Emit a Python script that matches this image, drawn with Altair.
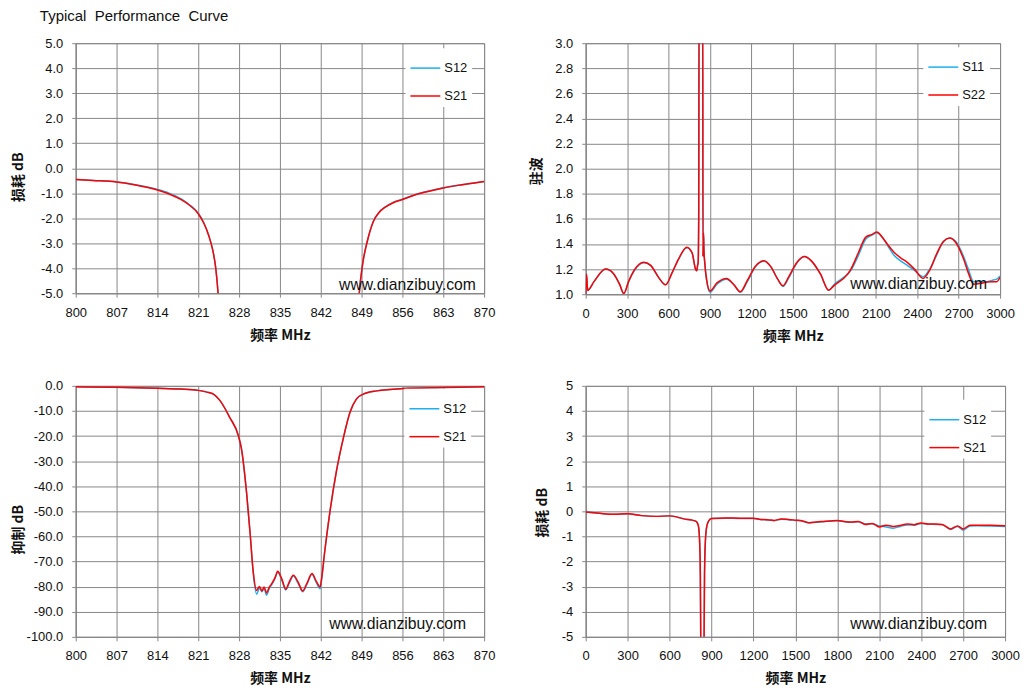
import altair as alt
import pandas as pd

TITLE = "Typical\u00a0 Performance\u00a0 Curve"
WATERMARK = "www.dianzibuy.com"
X_TITLE = "频率 MHz"
Y_TITLE_LOSS = "损耗 dB"
Y_TITLE_VSWR = "驻波"
Y_TITLE_REJ = "抑制 dB"

BLUE = "#1cb0ec"
RED = "#ff0000"
GRID = "#878787"
TEXT = "#111111"
FONT = "Liberation Sans"
CJK = "Noto Sans CJK SC"

NARROW_X_TICKS = [800, 807, 814, 821, 828, 835, 842, 849, 856, 863, 870]
WIDE_X_TICKS = [0, 300, 600, 900, 1200, 1500, 1800, 2100, 2400, 2700, 3000]
P1_Y_TICKS = [-5, -4, -3, -2, -1, 0, 1, 2, 3, 4, 5]
P2_Y_TICKS = [1.0, 1.2, 1.4, 1.6, 1.8, 2.0, 2.2, 2.4, 2.6, 2.8, 3.0]
P3_Y_TICKS = [-100, -90, -80, -70, -60, -50, -40, -30, -20, -10, 0]
P4_Y_TICKS = [-5, -4, -3, -2, -1, 0, 1, 2, 3, 4, 5]

# ---- Panel 1: passband edges, S12 / S21 (dB)
P1_FREQ = [800, 803, 807, 810, 814, 816, 818, 819.5, 821, 822, 822.8, 823.5, 824, 824.4, 824.8,
           848.2, 848.6, 849.2, 850, 851, 852, 853, 854.5, 856, 858, 860, 863, 866, 868, 870]
P1_S21 = [-0.45, -0.49, -0.55, -0.66, -0.87, -1.03, -1.25, -1.48, -1.82, -2.22, -2.7, -3.3, -4.0, -5.0, -6.5,
          -6.5, -5.0, -3.8, -2.9, -2.14, -1.77, -1.57, -1.37, -1.25, -1.08, -0.95, -0.79, -0.67, -0.6, -0.53]
P1_S12 = [-0.45, -0.49, -0.55, -0.65, -0.85, -1.0, -1.22, -1.46, -1.8, -2.2, -2.68, -3.28, -3.98, -5.0, -6.5,
          -6.5, -5.0, -3.8, -2.9, -2.13, -1.76, -1.56, -1.36, -1.24, -1.07, -0.94, -0.78, -0.66, -0.6, -0.53]

# ---- Panel 2: VSWR, S11 / S22
P2_FREQ = [0, 6, 14, 60, 144, 200, 245, 276, 310, 350, 420, 470, 530, 578, 625, 672, 732, 770, 795, 804,
           810, 814, 818, 821, 847, 849, 851, 853, 856, 862, 875, 900, 950, 1020, 1070, 1120, 1170, 1230,
           1291, 1340, 1390, 1428, 1470, 1530, 1584, 1630, 1700, 1759, 1800, 1896, 1920, 1970, 2028, 2070,
           2107, 2150, 2190, 2232, 2280, 2328, 2380, 2443, 2490, 2540, 2590, 2635, 2680, 2736, 2770, 2808,
           2850, 2900, 2940, 2976, 3000]
P2_S22 = [1.0, 1.16, 1.03, 1.1, 1.2, 1.165, 1.08, 1.005, 1.1, 1.19, 1.255, 1.23, 1.13, 1.075, 1.17, 1.28,
          1.375, 1.33, 1.2, 1.187, 1.23, 1.25, 1.6, 3.4, 3.4, 1.3, 1.42, 1.49, 1.35, 1.25, 1.12, 1.026,
          1.09, 1.126, 1.08, 1.02, 1.11, 1.225, 1.267, 1.22, 1.12, 1.067, 1.14, 1.255, 1.3, 1.27, 1.16,
          1.032, 1.07, 1.16, 1.2, 1.32, 1.455, 1.475, 1.495, 1.45, 1.39, 1.335, 1.29, 1.254, 1.2, 1.126,
          1.19, 1.32, 1.42, 1.447, 1.41, 1.28, 1.17, 1.08, 1.085, 1.095, 1.1, 1.1, 1.135]
P2_S11 = [1.0, 1.16, 1.03, 1.1, 1.2, 1.165, 1.08, 1.005, 1.1, 1.185, 1.25, 1.23, 1.13, 1.075, 1.17, 1.28,
          1.37, 1.33, 1.2, 1.187, 1.23, 1.25, 1.6, 3.4, 3.4, 1.3, 1.42, 1.48, 1.35, 1.25, 1.11, 1.015,
          1.08, 1.12, 1.08, 1.015, 1.1, 1.22, 1.262, 1.22, 1.12, 1.062, 1.13, 1.25, 1.3, 1.27, 1.16,
          1.032, 1.08, 1.16, 1.19, 1.3, 1.44, 1.47, 1.49, 1.45, 1.38, 1.31, 1.265, 1.23, 1.19, 1.14,
          1.2, 1.31, 1.42, 1.447, 1.42, 1.3, 1.2, 1.1, 1.1, 1.1, 1.11, 1.12, 1.145]

# ---- Panel 3: rejection, S12 / S21 (dB)
P3_FREQ = [800, 807, 814, 818, 821, 822.5, 823.6, 824.7, 826.4, 827.9, 828.4, 829.3, 829.9, 830.4, 831.0,
           831.5, 831.9, 832.3, 832.7, 833.2, 833.6, 834.2, 834.6, 835.3, 836.0, 836.6, 837.3, 838.1, 838.9,
           839.6, 840.5, 841.2, 841.9, 842.1, 842.7, 843.6, 844.7, 845.9, 847.0, 848.1, 849.3, 851.6, 856.1,
           863, 870]
P3_S21 = [-0.4, -0.6, -1.0, -1.3, -1.8, -2.5, -3.3, -5.8, -12.6, -20.0, -25.0, -43.0, -59.0, -73.5, -81.5,
          -79.9, -81.7, -80.1, -82.5, -80.1, -78.8, -76.2, -73.9, -76.8, -81.0, -78.1, -75.5, -78.1, -81.7,
          -78.8, -74.8, -77.7, -80.1, -77.5, -65.6, -49.7, -33.8, -20.5, -10.6, -5.3, -3.3, -2.0, -1.1,
          -0.7, -0.4]
P3_S12 = [-0.4, -0.6, -1.0, -1.3, -1.8, -2.5, -3.3, -5.8, -12.6, -20.0, -25.0, -43.0, -59.0, -74.0, -83.0,
          -80.5, -82.0, -80.8, -83.4, -80.6, -79.2, -76.5, -74.3, -77.2, -81.3, -78.6, -75.8, -78.6, -82.0,
          -79.2, -75.2, -78.2, -80.8, -78.0, -65.6, -49.7, -33.8, -20.5, -10.6, -5.3, -3.3, -2.0, -1.1,
          -0.7, -0.4]

# ---- Panel 4: wideband loss, S12 / S21 (dB)
P4_FREQ = [0, 100, 200, 300, 400, 500, 600, 650, 700, 760, 790, 805, 815, 820, 823, 826, 844, 846.5, 850,
           856, 866, 880, 900, 1000, 1100, 1200, 1250, 1300, 1350, 1400, 1450, 1500, 1550, 1600, 1650, 1700,
           1750, 1800, 1850, 1900, 1950, 2000, 2050, 2100, 2150, 2200, 2250, 2300, 2350, 2400, 2450, 2500,
           2550, 2610, 2660, 2700, 2750, 2800, 2900, 3000]
P4_S21 = [-0.03, -0.08, -0.12, -0.1, -0.17, -0.2, -0.18, -0.22, -0.3, -0.35, -0.4, -0.55, -1.2, -2.5, -5.2,
          -8.0, -8.0, -5.2, -2.5, -1.2, -0.6, -0.38, -0.28, -0.26, -0.27, -0.27, -0.32, -0.33, -0.36, -0.3,
          -0.32, -0.35, -0.38, -0.45, -0.42, -0.4, -0.38, -0.36, -0.4, -0.42, -0.4, -0.52, -0.48, -0.62,
          -0.55, -0.6, -0.56, -0.5, -0.53, -0.46, -0.5, -0.5, -0.52, -0.7, -0.58, -0.7, -0.55, -0.55, -0.55,
          -0.57]
P4_S12 = [-0.03, -0.08, -0.12, -0.1, -0.17, -0.2, -0.18, -0.22, -0.3, -0.35, -0.4, -0.55, -1.2, -2.5, -5.2,
          -8.0, -8.0, -5.2, -2.5, -1.2, -0.6, -0.38, -0.28, -0.27, -0.28, -0.28, -0.32, -0.34, -0.37, -0.31,
          -0.33, -0.36, -0.39, -0.46, -0.43, -0.41, -0.38, -0.37, -0.41, -0.43, -0.41, -0.5, -0.49, -0.58,
          -0.62, -0.67, -0.6, -0.54, -0.55, -0.48, -0.51, -0.52, -0.53, -0.72, -0.6, -0.75, -0.58, -0.57,
          -0.58, -0.6]


def series_frame(names, freq, values_list):
    rows = []
    for name, vals in zip(names, values_list):
        for f, v in zip(freq, vals):
            rows.append({"f": f, "v": v, "s": name})
    return pd.DataFrame(rows)


def panel(df, names, xdom, xticks, ydom, yticks, yfmt, ytitle, w, h,
          ytx, yty, leg_x, leg_y, wm_f, wm_v, extra=()):
    xaxis = alt.Axis(values=xticks, tickCount=len(xticks), format="d", title=X_TITLE,
                     titleX=w / 2, titleY=42, titleBaseline="middle", titleAlign="center", titleAngle=0,
                     labelFlush=False, labelOverlap=False, labelBound=False)
    yaxis = alt.Axis(values=yticks, tickCount=len(yticks), format=yfmt, title=ytitle,
                     titleX=ytx, titleY=yty, titleAngle=270, titleBaseline="middle", titleAlign="center",
                     labelExpr="replace(datum.label, '\u2212', '-')",
                     labelFlush=False, labelOverlap=False, labelBound=False)
    legend = alt.Legend(title=None, orient="none", legendX=leg_x, legendY=leg_y,
                        fillColor="white", padding=4, symbolType="stroke", symbolSize=900,
                        symbolStrokeWidth=1.5, labelFont=FONT, labelFontSize=13,
                        labelColor=TEXT, labelOffset=3, rowPadding=5, direction="vertical")
    lines = alt.Chart(df).mark_line(clip=True, strokeWidth=1.5, interpolate="monotone").encode(
        x=alt.X("f:Q", scale=alt.Scale(domain=xdom, nice=False, zero=False), axis=xaxis),
        y=alt.Y("v:Q", scale=alt.Scale(domain=ydom, nice=False, zero=False), axis=yaxis),
        color=alt.Color("s:N", scale=alt.Scale(domain=names, range=[BLUE, RED]), legend=legend),
    )
    wm = alt.Chart(pd.DataFrame({"f": [wm_f], "v": [wm_v], "t": [WATERMARK]})).mark_text(
        align="right", baseline="alphabetic", font=FONT, fontSize=15.8, color=TEXT
    ).encode(x="f:Q", y="v:Q", text="t:N")
    return alt.layer(lines, wm, *extra).properties(width=w, height=h)


title_layer = alt.Chart(pd.DataFrame({"t": [TITLE]})).mark_text(
    align="left", baseline="alphabetic", font=FONT, fontSize=15, color=TEXT
).encode(x=alt.value(-36), y=alt.value(-22), text="t:N")

df1 = series_frame(["S12", "S21"], P1_FREQ, [P1_S12, P1_S21])
df2 = series_frame(["S11", "S22"], P2_FREQ, [P2_S11, P2_S22])
df3 = series_frame(["S12", "S21"], P3_FREQ, [P3_S12, P3_S21])
df4 = series_frame(["S12", "S21"], P4_FREQ, [P4_S12, P4_S21])

p1 = panel(df1, ["S12", "S21"], [800, 870], NARROW_X_TICKS, [-5, 5], P1_Y_TICKS, ".1f", Y_TITLE_LOSS,
           410, 251, -57, 134, 331, 5, 868.6, -4.86, extra=(title_layer,))
p2 = panel(df2, ["S11", "S22"], [0, 3000], WIDE_X_TICKS, [1.0, 3.0], P2_Y_TICKS, ".1f", Y_TITLE_VSWR,
           416, 252, -49, 128, 339, 4, 2906, 1.04)
p3 = panel(df3, ["S12", "S21"], [800, 870], NARROW_X_TICKS, [-100, 0], P3_Y_TICKS, ".1f", Y_TITLE_REJ,
           410, 252, -57, 144, 330, 3, 866.9, -96.8)
p4 = panel(df4, ["S12", "S21"], [0, 3000], WIDE_X_TICKS, [-5, 5], P4_Y_TICKS, "d", Y_TITLE_LOSS,
           421, 252, -43, 127, 340, 14, 2872, -4.68)

chart = alt.concat(p1, p2, p3, p4, columns=2, spacing={"row": 92, "column": 102}, bounds="flush").resolve_scale(
    color="independent", x="independent", y="independent"
).resolve_legend(color="independent").properties(
    padding={"left": 3, "top": -1, "right": 0, "bottom": 0}, background="white"
).configure_view(stroke=GRID, strokeWidth=1).configure_axis(
    grid=True, gridColor=GRID, gridWidth=1, gridOpacity=1,
    domainColor=GRID, domainWidth=1, tickColor=GRID, tickSize=4, tickWidth=1,
    labelFont=FONT, labelFontSize=13, labelColor=TEXT, labelPadding=9,
    titleFont=CJK, titleFontSize=14, titleFontWeight="bold", titleColor=TEXT
)

chart.save("out.html", embed_options={"renderer": "svg", "actions": False})
